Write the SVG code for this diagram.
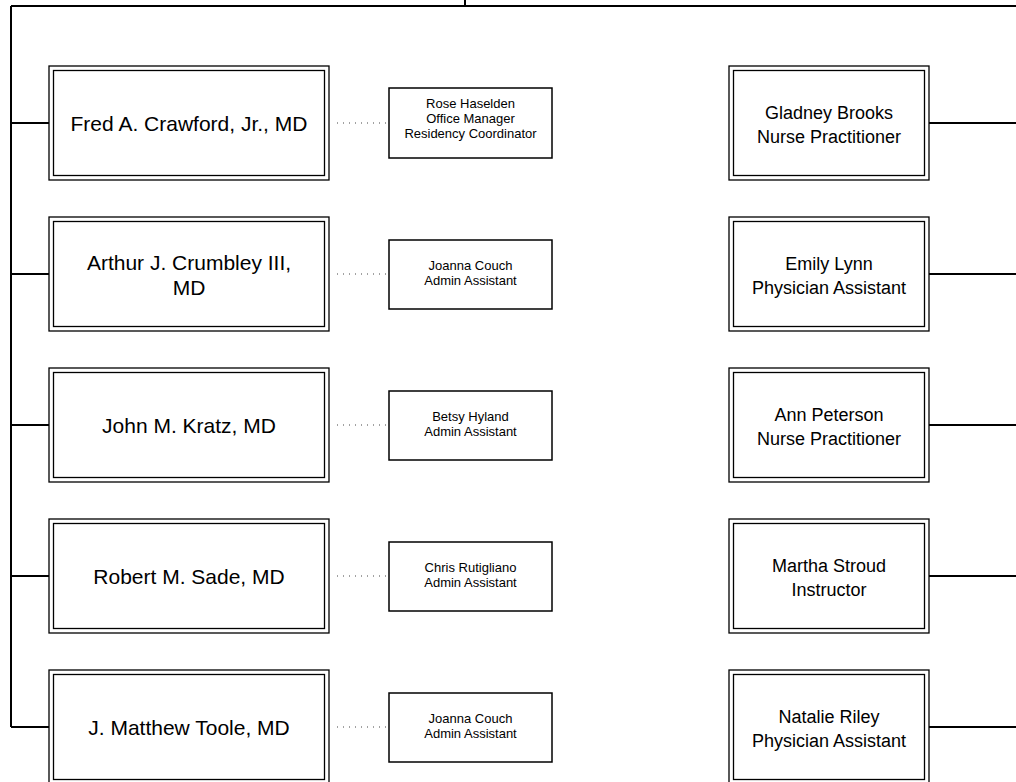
<svg xmlns="http://www.w3.org/2000/svg" width="1016" height="782" viewBox="0 0 1016 782">
<style>
.o{fill:#fff;stroke:#000;stroke-width:1.3}
.i{fill:none;stroke:#000;stroke-width:1.3}
.s{fill:#fff;stroke:#000;stroke-width:1.5}
.ln{fill:none;stroke:#000;stroke-width:2}
.dot{fill:none;stroke:#444;stroke-width:1;stroke-dasharray:1 5}
.t{font-family:"Liberation Sans",Arial,sans-serif;font-size:21px;fill:#000;text-anchor:middle}
.tr{font-family:"Liberation Sans",Arial,sans-serif;font-size:18px;fill:#000;text-anchor:middle}
.ts{font-family:"Liberation Sans",Arial,sans-serif;font-size:13px;fill:#000;text-anchor:middle}
</style>
<rect width="1016" height="782" fill="#fff"/>
<g id="connectors">
<path class="ln" d="M465 0V6M11 6H1016M11 6V727"/>
<path class="ln" d="M11 123H49M11 274H49M11 425H49M11 576H49M11 727H49"/>
<path class="ln" d="M929 123H1016M929 274H1016M929 425H1016M929 576H1016M929 727H1016"/>
<path class="dot" d="M337 123H389M337 274H389M337 425H389M337 576H389M337 727H389"/>
</g>
<g id="n1"><rect class="o" x="49" y="66" width="280" height="114"/><rect class="i" x="53.5" y="70.5" width="271" height="105"/><text class="t" x="189" y="131">Fred A. Crawford, Jr., MD</text></g>
<g id="n2"><rect class="o" x="49" y="217" width="280" height="114"/><rect class="i" x="53.5" y="221.5" width="271" height="105"/><text class="t" x="189" y="270">Arthur J. Crumbley III,</text><text class="t" x="189" y="295">MD</text></g>
<g id="n3"><rect class="o" x="49" y="368" width="280" height="114"/><rect class="i" x="53.5" y="372.5" width="271" height="105"/><text class="t" x="189" y="433">John M. Kratz, MD</text></g>
<g id="n4"><rect class="o" x="49" y="519" width="280" height="114"/><rect class="i" x="53.5" y="523.5" width="271" height="105"/><text class="t" x="189" y="584">Robert M. Sade, MD</text></g>
<g id="n5"><rect class="o" x="49" y="670" width="280" height="114"/><rect class="i" x="53.5" y="674.5" width="271" height="105"/><text class="t" x="189" y="735">J. Matthew Toole, MD</text></g>
<g id="s1"><rect class="s" x="389" y="88" width="163" height="70"/><text class="ts" x="470.5" y="108">Rose Haselden</text><text class="ts" x="470.5" y="123">Office Manager</text><text class="ts" x="470.5" y="138">Residency Coordinator</text></g>
<g id="s2"><rect class="s" x="389" y="240" width="163" height="69"/><text class="ts" x="470.5" y="270">Joanna Couch</text><text class="ts" x="470.5" y="285">Admin Assistant</text></g>
<g id="s3"><rect class="s" x="389" y="391" width="163" height="69"/><text class="ts" x="470.5" y="421">Betsy Hyland</text><text class="ts" x="470.5" y="436">Admin Assistant</text></g>
<g id="s4"><rect class="s" x="389" y="542" width="163" height="69"/><text class="ts" x="470.5" y="572">Chris Rutigliano</text><text class="ts" x="470.5" y="587">Admin Assistant</text></g>
<g id="s5"><rect class="s" x="389" y="693" width="163" height="69"/><text class="ts" x="470.5" y="723">Joanna Couch</text><text class="ts" x="470.5" y="738">Admin Assistant</text></g>
<g id="r1"><rect class="o" x="729" y="66" width="200" height="114"/><rect class="i" x="733.5" y="70.5" width="191" height="105"/><text class="tr" x="829" y="119">Gladney Brooks</text><text class="tr" x="829" y="143">Nurse Practitioner</text></g>
<g id="r2"><rect class="o" x="729" y="217" width="200" height="114"/><rect class="i" x="733.5" y="221.5" width="191" height="105"/><text class="tr" x="829" y="270">Emily Lynn</text><text class="tr" x="829" y="294">Physician Assistant</text></g>
<g id="r3"><rect class="o" x="729" y="368" width="200" height="114"/><rect class="i" x="733.5" y="372.5" width="191" height="105"/><text class="tr" x="829" y="421">Ann Peterson</text><text class="tr" x="829" y="445">Nurse Practitioner</text></g>
<g id="r4"><rect class="o" x="729" y="519" width="200" height="114"/><rect class="i" x="733.5" y="523.5" width="191" height="105"/><text class="tr" x="829" y="572">Martha Stroud</text><text class="tr" x="829" y="596">Instructor</text></g>
<g id="r5"><rect class="o" x="729" y="670" width="200" height="114"/><rect class="i" x="733.5" y="674.5" width="191" height="105"/><text class="tr" x="829" y="723">Natalie Riley</text><text class="tr" x="829" y="747">Physician Assistant</text></g>
</svg>
